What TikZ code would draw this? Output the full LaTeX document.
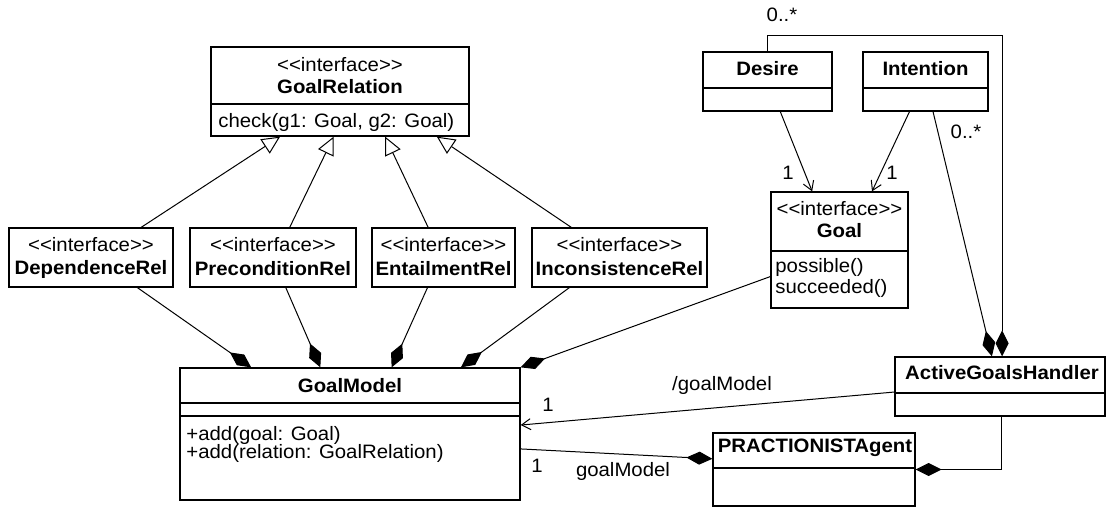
\documentclass[tikz,border=0pt]{standalone}
\usepackage{fontspec}
\newfontfamily\umlfont{Liberation Sans}[FakeStretch=1.05]
\usetikzlibrary{arrows.meta}

\begin{document}
\begin{tikzpicture}[x=0.5pt,y=-0.5pt,
  font=\umlfont\fontsize{9.7}{11.6}\selectfont,
  cls/.style={draw, line width=0.65pt, inner sep=0pt},
  stereo/.style={inner sep=0pt},
  title/.style={inner sep=0pt, font=\umlfont\fontsize{9.7}{11.6}\selectfont\bfseries},
  op/.style={inner sep=0pt, anchor=west},
  mult/.style={inner sep=0pt},
  gen/.style={line width=0.5pt, -{Triangle[open, fill=white, length=9pt, width=8.5pt]}},
  comp/.style={line width=0.5pt, -{Diamond[length=13pt, width=6.5pt]}},
  nav/.style={line width=0.5pt, -{Straight Barb[length=4.5pt, width=5.5pt]}}]
\useasboundingbox (0,0) rectangle (1107,507);

% GoalRelation
\node[cls, minimum width=129pt, minimum height=44.5pt] (rel) at (340,91.5) {};
\draw[cls] (rel.west |- 0,104) -- (rel.east |- 0,104);
\node[stereo] (relst) at (340,65) {<<interface>>};
\node[title] (relnm) at (340,87) {GoalRelation};
\node[op] (relop) at (218,122) {check(g1: Goal, g2: Goal)};

% relation interfaces
\node[cls, minimum width=82pt, minimum height=29.5pt] (dep) at (91,257.5) {};
\node[stereo] (depst) at (91,245) {<<interface>>};
\node[title] (depnm) at (91,269) {DependenceRel};
\node[cls, minimum width=83pt, minimum height=29.5pt] (pre) at (273,257.5) {};
\node[stereo] (prest) at (273,245) {<<interface>>};
\node[title] (prenm) at (273,269) {PreconditionRel};
\node[cls, minimum width=71.5pt, minimum height=29.5pt] (ent) at (443.5,257.5) {};
\node[stereo] (entst) at (443.5,245) {<<interface>>};
\node[title] (entnm) at (443.5,269) {EntailmentRel};
\node[cls, minimum width=87.5pt, minimum height=29.5pt] (inc) at (619.5,257.5) {};
\node[stereo] (incst) at (619.5,245) {<<interface>>};
\node[title] (incnm) at (619.5,269) {InconsistenceRel};

% GoalModel
\node[cls, minimum width=170pt, minimum height=66pt] (gm) at (350,434) {};
\draw[cls] (gm.west |- 0,403) -- (gm.east |- 0,403);
\draw[cls] (gm.west |- 0,416) -- (gm.east |- 0,416);
\node[title] (gmnm) at (350,386) {GoalModel};
\node[op] (gmop1) at (186,435) {+add(goal: Goal)};
\node[op] (gmop2) at (186,453) {+add(relation: GoalRelation)};

% Goal
\node[cls, minimum width=68.5pt, minimum height=58pt] (goal) at (839.5,250) {};
\draw[cls] (goal.west |- 0,251) -- (goal.east |- 0,251);
\node[stereo] (goalst) at (839.5,209) {<<interface>>};
\node[title] (goalnm) at (839.5,231) {Goal};
\node[op] (goalop1) at (775,267) {possible()};
\node[op] (goalop2) at (775,288) {succeeded()};

% Desire, Intention
\node[cls, minimum width=64.5pt, minimum height=29.5pt] (des) at (767.5,81.5) {};
\draw[cls] (des.west |- 0,88) -- (des.east |- 0,88);
\node[title] (desnm) at (767.5,69) {Desire};
\node[cls, minimum width=62.5pt, minimum height=29.5pt] (int) at (925.5,81.5) {};
\draw[cls] (int.west |- 0,88) -- (int.east |- 0,88);
\node[title] (intnm) at (925.5,69) {Intention};

% ActiveGoalsHandler, PRACTIONISTAgent
\node[cls, minimum width=105pt, minimum height=29.5pt] (agh) at (1000,386.5) {};
\draw[cls] (agh.west |- 0,393) -- (agh.east |- 0,393);
\node[title] (aghnm) at (1002,373) {ActiveGoalsHandler};
\node[cls, minimum width=101pt, minimum height=36.5pt] (pa) at (814,469.5) {};
\draw[cls] (pa.west |- 0,468) -- (pa.east |- 0,468);
\node[title] (panm) at (815,448) {PRACTIONISTAgent};

% generalizations
\draw[gen] (dep.31) -- (rel.217.5);
\draw[gen] (pre.61.5) -- (rel.262.3);
\draw[gen] (ent.117.7) -- (rel.315.3);
\draw[gen] (inc.148.2) -- (rel.335.4);

% compositions into GoalModel
\draw[comp] (dep.327.3) -- (gm.146.6);
\draw[comp] (pre.293.8) -- (gm.114.4);
\draw[comp] (ent.242.3) -- (gm.58.8);
\draw[comp] (inc.211.8) -- (gm.31);
\draw[comp] (goal.201.5) -- (gm.north east);

% associations
\draw[nav] (des.293) -- (goal.115.4);
\draw[nav] (int.242.3) -- (goal.61.5);
\draw[comp] (int.284.3) -- (agh.105.2);
\draw[comp] (des.north) -- ++(0,-16) -| (agh.86.1);
\draw[nav] (agh.183.5) -- (gm.3.7);
\draw[comp] (gm.355.6) -- (pa.174.1);
\draw[comp] (agh.273.9) |- (pa.east);

% multiplicities, roles
\node[mult] (m1) at (782,15) {0..*};
\node[mult] (m2) at (788,173) {1};
\node[mult] (m3) at (892,173) {1};
\node[mult] (m4) at (966,132) {0..*};
\node[mult] (m5) at (548,405) {1};
\node[mult] (r1) at (722,385) {/goalModel};
\node[mult] (m6) at (537,466) {1};
\node[mult] (r2) at (623,471) {goalModel};
\end{tikzpicture}
\end{document}
